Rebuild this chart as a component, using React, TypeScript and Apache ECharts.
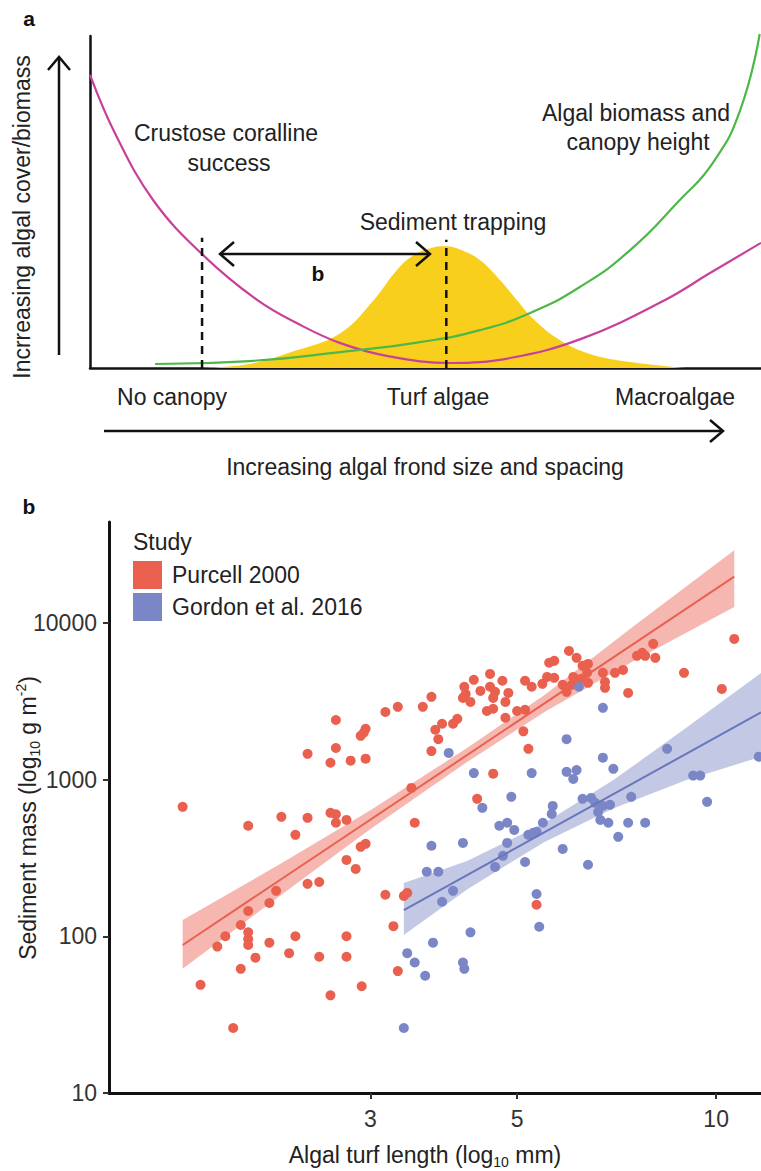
import React, { useEffect, useRef } from "react";
import * as echarts from "echarts";

const FONT = '"Liberation Sans", Arial, Helvetica, sans-serif';

// ---------- Panel a (schematic, 0-100 units) ----------
const magentaCurve: [number, number][] = [
  [0, 88.3], [3.7, 70.8], [9.4, 50.6], [16.7, 34.3], [24.9, 20.5], [31.3, 13.0],
  [37.3, 7.5], [44.4, 3.6], [53.7, 1.5], [62.6, 3.0], [73.5, 9.0], [85.7, 20.5],
  [92.4, 28.6], [100, 37.7],
];
const greenCurve: [number, number][] = [
  [9.7, 1.2], [23.8, 2.1], [37.3, 4.8], [49.2, 7.8], [58.1, 11.4], [65.6, 16.6],
  [73.0, 24.4], [80.5, 35.5], [87.9, 50.6], [92.8, 61.7], [96.9, 77.7], [99.8, 100.6],
];
const yellowCurve: [number, number][] = [
  [16.4, 0], [23.8, 1.2], [30.0, 4.8], [37.3, 10.5], [42.3, 20.5], [45.5, 28.9],
  [48.0, 33.7], [50.7, 36.1], [52.9, 36.7], [55.4, 35.5], [58.1, 32.5], [61.1, 26.5],
  [63.6, 20.5], [66.2, 14.5], [70.0, 8.4], [74.5, 4.2], [80.5, 1.8], [88.7, 0],
];
const dashedX = [16.7, 53.1];
const dashedTop = [39.2, 38.6];

// ---------- Panel b ----------
const purcell: [number, number][] = [
  [2.66, 2400], [2.95, 2110], [2.93, 1990], [2.9, 1900], [2.41, 1460], [2.66, 1590],
  [2.61, 1280], [2.8, 1320], [2.95, 1360], [1.56, 670], [1.96, 507], [2.2, 578],
  [2.41, 570], [2.61, 613], [2.66, 600], [2.66, 530], [2.76, 553], [2.31, 444],
  [2.9, 372], [2.95, 389], [2.76, 307], [2.85, 269], [2.41, 216], [2.51, 222],
  [2.16, 195], [2.11, 163], [1.96, 145], [1.91, 118], [1.81, 100], [1.96, 106],
  [1.96, 96], [1.96, 88], [2.11, 91], [2.31, 100], [2.76, 100], [1.76, 86],
  [1.91, 62], [2.01, 73], [2.26, 78], [2.51, 74], [2.76, 74], [1.66, 49],
  [2.61, 42], [2.91, 48], [1.86, 26], [3.3, 60],
  [3.16, 2700], [3.3, 2910], [3.6, 2910], [3.71, 3370], [3.76, 2080], [3.85, 2270],
  [3.8, 1810], [3.71, 1520], [4.0, 2270], [4.06, 2440], [4.16, 3910], [4.18, 3520],
  [4.14, 3320], [4.25, 3130], [4.3, 4330], [4.4, 3680], [4.55, 4720], [4.55, 3910],
  [4.63, 3630], [4.6, 3320], [4.75, 4270], [4.85, 3570], [4.8, 3130], [4.5, 2740],
  [4.6, 2830], [4.8, 2480], [5.0, 2740], [5.14, 2790], [5.14, 4270], [5.26, 3910],
  [5.11, 2030], [5.2, 1570], [5.46, 4080], [5.55, 4520], [5.69, 4460], [5.59, 5560],
  [5.69, 5720], [5.86, 4020], [5.94, 3630], [5.99, 6620], [6.08, 4520], [6.15, 5980],
  [6.05, 4020], [6.28, 5320], [6.4, 5470], [6.25, 4390], [6.38, 4800], [6.4, 4140],
  [6.74, 4800], [6.79, 4200], [6.79, 3850], [7.03, 4800], [7.23, 5010], [7.36, 3570],
  [7.59, 6160], [7.73, 6440], [7.81, 6160], [8.03, 7350], [8.09, 5980], [8.94, 4800],
  [10.2, 3790], [10.65, 7900], [4.6, 1090], [3.46, 885], [4.35, 753], [3.5, 530],
  [3.16, 184], [3.37, 181], [3.41, 189], [3.25, 116], [5.35, 159],
];
const gordon: [number, number][] = [
  [6.2, 3910], [6.74, 2870], [5.94, 1810], [3.94, 1480], [6.74, 1380], [8.43, 1570],
  [11.6, 1400], [4.3, 1100], [5.26, 1100], [5.94, 1120], [6.15, 1150], [6.08, 1010],
  [6.99, 1170], [9.23, 1060], [9.46, 1060], [9.69, 721], [4.9, 776], [4.43, 660],
  [5.66, 679], [5.64, 604], [6.28, 753], [6.47, 764], [6.56, 710], [6.74, 679],
  [6.91, 690], [6.63, 622], [6.68, 553], [6.87, 530], [7.44, 776], [7.36, 530],
  [7.81, 530], [7.11, 431], [4.7, 507], [4.83, 530], [4.95, 477], [5.47, 530],
  [5.2, 444], [5.29, 457], [5.35, 464], [4.83, 394], [4.76, 326], [5.86, 361],
  [6.4, 286], [5.14, 298], [4.63, 277], [3.71, 378], [4.14, 394], [3.65, 258],
  [3.8, 258], [4.0, 195], [3.85, 166], [5.35, 186], [5.4, 115], [4.25, 106],
  [3.73, 91], [3.41, 78], [3.5, 68], [3.63, 56], [4.14, 68], [4.16, 62], [3.37, 26],
];
const purcellFit: [number, number][] = [[1.56, 88], [10.65, 19700]];
const gordonFit: [number, number][] = [[3.37, 147], [11.69, 2680]];
const purcellBandX = [1.56, 2.2, 3, 4.2, 5.5, 7.5, 10.65];
const purcellUpper = [127, 292, 637, 1590, 3470, 9500, 29000];
const purcellLower = [62, 184, 484, 1295, 2700, 5700, 12600];
const gordonBandX = [3.37, 4.2, 5.5, 7, 9, 11.69];
const gordonUpper = [219, 302, 528, 996, 2130, 4790];
const gordonLower = [102, 199, 400, 657, 990, 1400];
const xTicks = [3, 5, 10];
const yTicks = [10, 100, 1000, 10000];
const studies = ["Purcell 2000", "Gordon et al. 2016"];

const RED = "#E9604F";
const BLUE = "#7A86C6";

function bandSeries(xs: number[], lo: number[], hi: number[], color: string) {
  return {
    type: "custom",
    xAxisIndex: 1,
    yAxisIndex: 1,
    silent: true,
    clip: true,
    data: xs.map((x, i) => [x, lo[i], hi[i]]),
    encode: { x: 0, y: [1, 2] },
    renderItem: (params: any, api: any) => {
      if (params.dataIndex !== 0) return null;
      const top = xs.map((x, i) => api.coord([x, hi[i]]));
      const bottom = xs.map((x, i) => api.coord([x, lo[i]])).reverse();
      return {
        type: "polygon",
        shape: { points: top.concat(bottom) },
        style: { fill: color, opacity: 0.45 },
      };
    },
  };
}

const txt = (x: number, y: number, text: string, extra: any = {}) => ({
  type: "text",
  x,
  y,
  z: 10,
  style: {
    text,
    fill: "#222",
    fontSize: 23,
    fontFamily: FONT,
    align: "center",
    verticalAlign: "middle",
    ...extra,
  },
});

const lineStyleBlack = { stroke: "#111", lineWidth: 2.5, fill: "none" };

export default function App() {
  const ref = useRef<HTMLDivElement>(null);
  useEffect(() => {
    const chart = echarts.init(ref.current!, null, { renderer: "svg" });
    const rich = {
      a: { fontSize: 23, lineHeight: 28, fontFamily: FONT, color: "#222" },
      s: { fontSize: 14, lineHeight: 14, fontFamily: FONT, verticalAlign: "bottom", color: "#222" },
      p: { fontSize: 14, lineHeight: 14, fontFamily: FONT, verticalAlign: "top", color: "#222" },
    };
    const option: any = {
      animation: false,
      backgroundColor: "#fff",
      grid: [
        { left: 90, right: 0, top: 36, bottom: 803 },
        { left: 109, right: 0, top: 522, bottom: 78 },
      ],
      xAxis: [
        {
          type: "value", gridIndex: 0, min: 0, max: 100,
          axisLine: { show: true, onZero: false, lineStyle: { color: "#111", width: 2.5 } },
          axisTick: { show: false }, axisLabel: { show: false }, splitLine: { show: false },
        },
        {
          type: "log", gridIndex: 1, logBase: 10, min: 1.207, max: 11.69,
          axisLine: { show: true, onZero: false, lineStyle: { color: "#111", width: 3 } },
          axisTick: { show: true, length: 6, customValues: xTicks, lineStyle: { color: "#333", width: 2 } },
          minorTick: { show: false },
          axisLabel: {
            customValues: xTicks, formatter: (v: number) => String(v),
            fontSize: 23, color: "#333", margin: 14, fontFamily: FONT,
          },
          splitLine: { show: false },
        },
      ],
      yAxis: [
        {
          type: "value", gridIndex: 0, min: 0, max: 100,
          axisLine: { show: true, onZero: false, lineStyle: { color: "#111", width: 2.5 } },
          axisTick: { show: false }, axisLabel: { show: false }, splitLine: { show: false },
        },
        {
          type: "log", gridIndex: 1, logBase: 10, min: 10, max: 44000,
          axisLine: { show: true, onZero: false, lineStyle: { color: "#111", width: 3 } },
          axisTick: { show: true, length: 6, customValues: yTicks, lineStyle: { color: "#333", width: 2 } },
          minorTick: { show: false },
          axisLabel: {
            customValues: yTicks, formatter: (v: number) => String(v),
            fontSize: 23, color: "#333", margin: 12, fontFamily: FONT,
          },
          splitLine: { show: false },
        },
      ],
      legend: {
        data: studies,
        orient: "vertical",
        left: 133,
        top: 561,
        padding: 0,
        itemWidth: 29,
        itemHeight: 28,
        itemGap: 4,
        icon: "rect",
        selectedMode: false,
        textStyle: { fontSize: 23, color: "#222", fontFamily: FONT, padding: [0, 0, 0, 5] },
      },
      series: [
        // panel a
        {
          type: "line", xAxisIndex: 0, yAxisIndex: 0, data: yellowCurve, smooth: 0.4,
          showSymbol: false, lineStyle: { width: 0 }, areaStyle: { color: "#F8CF1C", opacity: 1 },
          silent: true, z: 1,
        },
        {
          type: "line", xAxisIndex: 0, yAxisIndex: 0, data: magentaCurve, smooth: 0.4,
          showSymbol: false, lineStyle: { color: "#C8409A", width: 2.2 }, silent: true, clip: false,
        },
        {
          type: "line", xAxisIndex: 0, yAxisIndex: 0, data: greenCurve, smooth: 0.5,
          showSymbol: false, lineStyle: { color: "#4DB848", width: 2.2 }, silent: true, clip: false,
        },
        ...dashedX.map((x, i) => ({
          type: "line", xAxisIndex: 0, yAxisIndex: 0,
          data: [[x, 0], [x, dashedTop[i]]], showSymbol: false, silent: true,
          lineStyle: { color: "#111", width: 2.5, type: [8, 6] },
        })),
        // panel b
        {
          name: studies[0], type: "scatter", xAxisIndex: 1, yAxisIndex: 1, data: purcell,
          symbolSize: 10, itemStyle: { color: RED, opacity: 1 },
        },
        {
          name: studies[1], type: "scatter", xAxisIndex: 1, yAxisIndex: 1, data: gordon,
          symbolSize: 10, itemStyle: { color: BLUE, opacity: 1 },
        },
        bandSeries(purcellBandX, purcellLower, purcellUpper, RED),
        bandSeries(gordonBandX, gordonLower, gordonUpper, BLUE),
        {
          type: "line", xAxisIndex: 1, yAxisIndex: 1, data: purcellFit, showSymbol: false,
          lineStyle: { color: RED, width: 2 }, silent: true,
        },
        {
          type: "line", xAxisIndex: 1, yAxisIndex: 1, data: gordonFit, showSymbol: false,
          lineStyle: { color: "#6876BC", width: 2 }, silent: true,
        },
      ],
      graphic: [
        txt(29, 18, "a", { fontWeight: "bold", fontSize: 21, fill: "#111" }),
        { type: "line", z: 10, shape: { x1: 59, y1: 355, x2: 59, y2: 58 }, style: lineStyleBlack },
        { type: "polyline", z: 10, shape: { points: [[48, 70], [59, 57], [70, 70]] }, style: lineStyleBlack },
        { ...txt(22, 217, "Incrreasing algal cover/biomass"), rotation: Math.PI / 2 },
        txt(226, 133, "Crustose coralline"),
        txt(229, 163, "success"),
        txt(636, 113, "Algal biomass and"),
        txt(638, 142, "canopy height"),
        txt(453, 222, "Sediment trapping"),
        { type: "line", z: 10, shape: { x1: 221, y1: 254, x2: 429, y2: 254 }, style: lineStyleBlack },
        { type: "polyline", z: 10, shape: { points: [[234, 242], [220, 254], [234, 266]] }, style: lineStyleBlack },
        { type: "polyline", z: 10, shape: { points: [[416, 242], [430, 254], [416, 266]] }, style: lineStyleBlack },
        txt(318, 273, "b", { fontWeight: "bold", fontSize: 21, fill: "#111" }),
        txt(172, 397, "No canopy"),
        txt(438, 397, "Turf algae"),
        txt(675, 397, "Macroalgae"),
        { type: "line", z: 10, shape: { x1: 104, y1: 431, x2: 722, y2: 431 }, style: lineStyleBlack },
        { type: "polyline", z: 10, shape: { points: [[710, 420], [723, 431], [710, 442]] }, style: lineStyleBlack },
        txt(425, 467, "Increasing algal frond size and spacing"),
        // panel b
        txt(29, 506, "b", { fontWeight: "bold", fontSize: 21, fill: "#111" }),
        txt(133, 542, "Study", { align: "left" }),
        {
          type: "text", z: 10, x: 28, y: 818, rotation: Math.PI / 2,
          style: {
            text: "{a|Sediment mass (log}{s|10}{a| g m}{p|-2}{a|)}",
            rich, align: "center", verticalAlign: "middle", fill: "#222",
          },
        },
        {
          type: "text", z: 10, x: 425, y: 1155,
          style: {
            text: "{a|Algal turf length (log}{s|10}{a| mm)}",
            rich, align: "center", verticalAlign: "middle", fill: "#222",
          },
        },
      ],
    };
    chart.setOption(option);
    return () => chart.dispose();
  }, []);
  return (
    <div
      ref={ref}
      style={{ position: "absolute", left: 0, top: 0, width: 761, height: 1171, background: "#fff" }}
    />
  );
}
